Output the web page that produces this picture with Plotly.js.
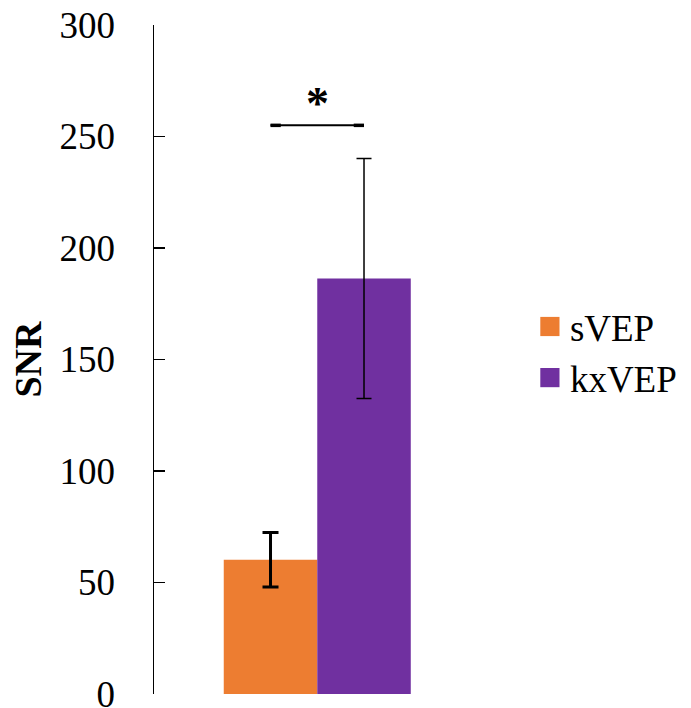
<!DOCTYPE html>
<html>
<head>
<meta charset="utf-8">
<script src="https://cdn.plot.ly/plotly-3.0.1.min.js"></script>
<style>html,body{margin:0;padding:0;background:#fff;}#chart{width:691px;height:708px;}</style>
</head>
<body>
<div id="chart"></div>
<script>
// Data
const categories = ['sVEP', 'kxVEP'];
const snrValues = [60.2, 186.3];
const snrErrors = [12.2, 53.8];
const sigBracket = { from: 'sVEP', to: 'kxVEP', y: 255, label: '*' };
const yTicks = [0, 50, 100, 150, 200, 250, 300];

const colors = ['#ED7D31', '#7030A0'];
const errThick = [3, 1.5];
const errWidth = [8, 7.5];
const FONT = '"Liberation Serif", "Times New Roman", serif';

const traces = categories.map((c, i) => ({
  type: 'bar',
  name: c,
  x: [c],
  y: [snrValues[i]],
  width: 1,
  marker: { color: colors[i], line: { width: 0 } },
  error_y: { type: 'data', array: [snrErrors[i]], visible: true, color: '#000', thickness: errThick[i], width: errWidth[i] },
  legendgroup: c
}));

const layout = {
  width: 691, height: 708,
  margin: { l: 154, r: 0, t: 25, b: 14 },
  paper_bgcolor: '#fff', plot_bgcolor: '#fff',
  barmode: 'overlay',
  showlegend: true,
  font: { family: FONT, color: '#000', size: 37 },
  xaxis: {
    type: 'category', categoryorder: 'array', categoryarray: categories,
    range: [-1.246, 4.497],
    showticklabels: false, showgrid: false, zeroline: false, showline: false, ticks: ''
  },
  yaxis: {
    range: [0, 300], tickvals: yTicks, ticktext: yTicks.map(String),
    showgrid: false, zeroline: false, showline: true, linecolor: '#000', linewidth: 1.5,
    ticks: 'inside', ticklen: 11, tickwidth: 1.5, tickcolor: '#000',
    tickfont: { family: FONT, size: 37, color: '#000' },
    ticklabelstandoff: 30, ticklabeloverflow: 'allow',
    title: { text: '<b>SNR</b>', font: { family: FONT, size: 38, color: '#000' }, standoff: 6 }
  },
  legend: {
    x: 0.7, y: 0.595, xanchor: 'left', yanchor: 'top',
    font: { family: FONT, size: 37, color: '#000' },
    traceorder: 'grouped', tracegroupgap: 0,
    bgcolor: 'rgba(0,0,0,0)'
  },
  shapes: [
    { type: 'line', xref: 'x', yref: 'y', x0: 0, x1: 1, y0: sigBracket.y, y1: sigBracket.y, line: { color: '#000', width: 2 } },
    { type: 'line', xref: 'x', yref: 'y', x0: 0, x1: 0.11, y0: sigBracket.y, y1: sigBracket.y, line: { color: '#000', width: 3.5 } },
    { type: 'line', xref: 'x', yref: 'y', x0: 0.89, x1: 1, y0: sigBracket.y, y1: sigBracket.y, line: { color: '#000', width: 3.5 } }
  ],
  annotations: [
    { xref: 'x', yref: 'y', x: 0.5, y: sigBracket.y, text: '<b>' + sigBracket.label + '</b>', showarrow: false, yanchor: 'bottom', yshift: -6,
      font: { family: FONT, size: 46, color: '#000' } }
  ]
};

Plotly.newPlot('chart', traces, layout, { staticPlot: true, displayModeBar: false }).then(gd => {
  gd.querySelectorAll('.legend .legendpoints path').forEach(p => {
    const t = p.getAttribute('transform') || '';
    p.setAttribute('transform', t + ' scale(1.6)');
  });
});
</script>
</body>
</html>
